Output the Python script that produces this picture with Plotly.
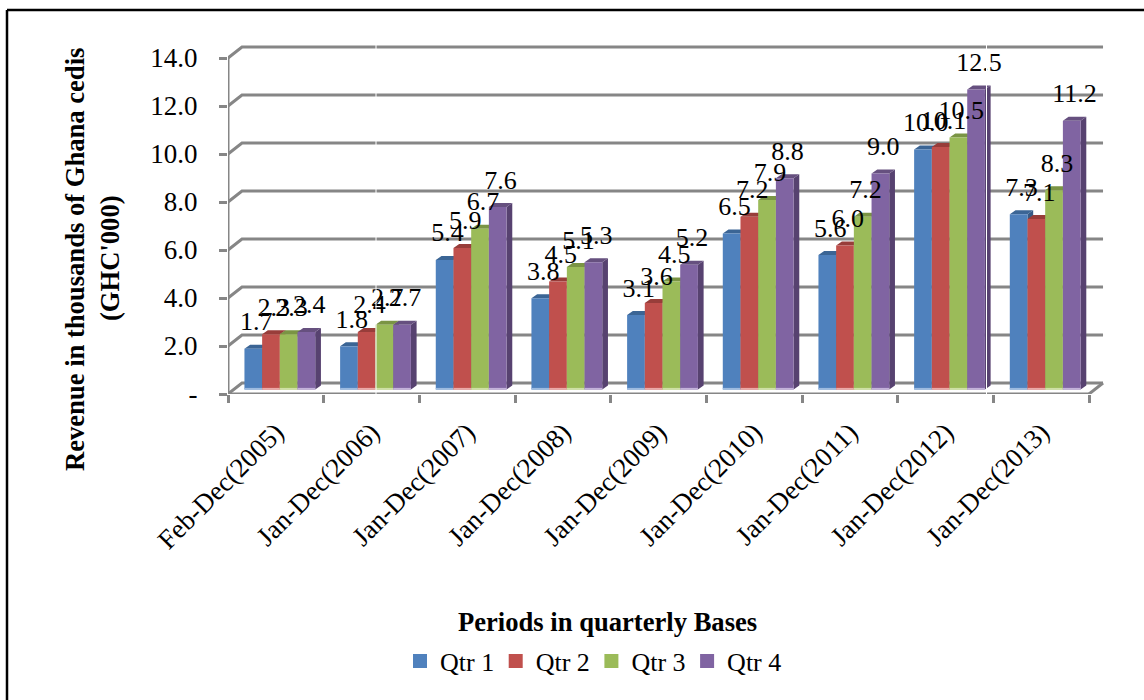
import plotly.graph_objects as go

# Quarterly revenue per reporting period (GHC'000)
periods = ["Feb-Dec(2005)", "Jan-Dec(2006)", "Jan-Dec(2007)", "Jan-Dec(2008)", "Jan-Dec(2009)",
           "Jan-Dec(2010)", "Jan-Dec(2011)", "Jan-Dec(2012)", "Jan-Dec(2013)"]
qtr1 = [1.7, 1.8, 5.4, 3.8, 3.1, 6.5, 5.6, 10.0, 7.3]
qtr2 = [2.3, 2.4, 5.9, 4.5, 3.6, 7.2, 6.0, 10.1, 7.1]
qtr3 = [2.3, 2.7, 6.7, 5.1, 4.5, 7.9, 7.2, 10.5, 8.3]
qtr4 = [2.4, 2.7, 7.6, 5.3, 5.2, 8.8, 9.0, 12.5, 11.2]
y_ticks = [0, 2, 4, 6, 8, 10, 12, 14]
y_tick_labels = ["-", "2.0", "4.0", "6.0", "8.0", "10.0", "12.0", "14.0"]

series = [("Qtr 1", qtr1), ("Qtr 2", qtr2), ("Qtr 3", qtr3), ("Qtr 4", qtr4)]
front = ["#4F81BD", "#C0504D", "#9BBB59", "#8064A2"]
top_face = ["#3B6595", "#983D3A", "#7A9444", "#66507F"]
side_face = ["#355A86", "#853532", "#6B823C", "#574270"]
base_edge = ["#9DBBE0", "#EBA9A7", "#CFE0A5", "#C3B2DA"]

FONT = "Liberation Serif"
AXIS_GREY = "#868686"

# Pixel scale of the plot frame
W, H = 1144, 700
LEFT, RIGHT, TOP, BOTTOM = 228, 1105, 30, 394
PX_PER_CAT = 95.67
PX_PER_UNIT = 24.0


def cat(px):
    return px / PX_PER_CAT


def val(px):
    return px / PX_PER_UNIT


# Oblique offsets: wall depth, bar depth, bar inset from the axis
WALL_DX, WALL_DY = cat(14), val(11)
BAR_DX, BAR_DY = cat(5.7), val(4)
BAR_BASE = val(4.5)
BAR_W = cat(17.7)
GROUP_SHIFT = cat(4)
LABEL_LIFT = val(25)

fig = go.Figure()

# Back wall gridlines and the slanted left wall
wall_x, wall_y = [], []
for v in y_ticks:
    wall_x += [0, WALL_DX, 9 + WALL_DX, None]
    wall_y += [v, v + WALL_DY, v + WALL_DY, None]
wall_x += [9, 9 + WALL_DX, None]
wall_y += [0, WALL_DY, None]
fig.add_trace(go.Scatter(x=wall_x, y=wall_y, mode="lines", line=dict(color=AXIS_GREY, width=3),
                         hoverinfo="skip", showlegend=False, zorder=0, cliponaxis=False))
# Front axis lines
fig.add_trace(go.Scatter(x=[0, 0, 9], y=[14, 0, 0], mode="lines", line=dict(color=AXIS_GREY, width=3),
                         hoverinfo="skip", showlegend=False, zorder=0, cliponaxis=False))

label_x, label_y, label_t = [], [], []
for s, (name, values) in enumerate(series):
    centers = [i + 0.5 + GROUP_SHIFT + (s - 1.5) * BAR_W for i in range(len(periods))]
    sx, sy, tx, ty, ex, ey = [], [], [], [], [], []
    for c, v in zip(centers, values):
        l, r = c - BAR_W / 2, c + BAR_W / 2
        t = BAR_BASE + v
        sx += [r, r + BAR_DX, r + BAR_DX, r, r, None]
        sy += [BAR_BASE, BAR_BASE + BAR_DY, t + BAR_DY, t, BAR_BASE, None]
        tx += [l, l + BAR_DX, r + BAR_DX, r, l, None]
        ty += [t, t + BAR_DY, t + BAR_DY, t, t, None]
        ex += [l, r, None]
        ey += [BAR_BASE + val(0.8), BAR_BASE + val(0.8), None]
        label_x.append(c + BAR_DX / 2)
        label_y.append(t + LABEL_LIFT)
        label_t.append(f"{v:.1f}")
    z = 2 * s + 1
    fig.add_trace(go.Scatter(x=sx, y=sy, mode="lines", fill="toself", fillcolor=side_face[s],
                             line=dict(width=0), hoverinfo="skip", showlegend=False, zorder=z))
    fig.add_trace(go.Scatter(x=tx, y=ty, mode="lines", fill="toself", fillcolor=top_face[s],
                             line=dict(width=0), hoverinfo="skip", showlegend=False, zorder=z))
    fig.add_trace(go.Bar(x=centers, y=values, base=BAR_BASE, width=BAR_W, name=name, legendgroup=name,
                         showlegend=False, marker=dict(color=front[s], line=dict(width=0)), zorder=z + 1))
    fig.add_trace(go.Scatter(x=ex, y=ey, mode="lines", line=dict(color=base_edge[s], width=1.6),
                             hoverinfo="skip", showlegend=False, zorder=z + 1))
    # Legend-only entry: the outline makes the swatch a little larger
    fig.add_trace(go.Bar(x=[None], y=[None], name=name, legendgroup=name, showlegend=True,
                         marker=dict(color=front[s], line=dict(width=2, color=front[s]))))

# Value labels sit above the bars and overlap where bars are close
fig.add_trace(go.Scatter(x=label_x, y=label_y, text=label_t, mode="text", textposition="middle center",
                         textfont=dict(family=FONT, size=26, color="#000000"),
                         hoverinfo="skip", showlegend=False, zorder=20, cliponaxis=False))


def paper_x(px):
    return (px - LEFT) / (RIGHT - LEFT)


def paper_y(px):
    return (BOTTOM - px) / (BOTTOM - TOP)


fig.update_layout(
    width=W, height=H, autosize=False,
    margin=dict(l=LEFT, r=W - RIGHT, t=TOP, b=H - BOTTOM, pad=0),
    paper_bgcolor="#ffffff", plot_bgcolor="#ffffff",
    barmode="overlay",
    font=dict(family=FONT, color="#000000", size=26),
    xaxis=dict(
        range=[0, (RIGHT - LEFT) / PX_PER_CAT],
        tickmode="array",
        tickvals=[i + 0.5 for i in range(len(periods))],
        ticktext=periods,
        tickangle=-45,
        ticks="",
        ticklabelstandoff=16,
        tickfont=dict(family=FONT, size=27),
        showgrid=False, zeroline=False, showline=False,
        minor=dict(tickmode="array", tickvals=list(range(len(periods) + 1)), ticks="outside",
                   ticklen=8, tickwidth=3, tickcolor=AXIS_GREY, showgrid=False),
    ),
    yaxis=dict(
        range=[0, (BOTTOM - TOP) / PX_PER_UNIT],
        tickmode="array",
        tickvals=y_ticks,
        ticktext=y_tick_labels,
        ticks="outside", ticklen=8, tickwidth=3, tickcolor=AXIS_GREY,
        ticklabelstandoff=16,
        tickfont=dict(family=FONT, size=27),
        showgrid=False, zeroline=False, showline=False,
    ),
    legend=dict(orientation="h", x=paper_x(400), y=paper_y(661), xanchor="left", yanchor="middle",
                entrywidth=50.7, entrywidthmode="pixels", traceorder="normal",
                font=dict(family=FONT, size=26), bgcolor="rgba(0,0,0,0)"),
    annotations=[
        dict(text="<b>Revenue in thousands of Ghana cedis</b>", xref="paper", yref="paper",
             x=paper_x(75), y=paper_y(260), textangle=-90, showarrow=False, xanchor="center", yanchor="middle",
             font=dict(family=FONT, size=26.6)),
        dict(text="<b>(GHC'000)</b>", xref="paper", yref="paper",
             x=paper_x(110), y=paper_y(258), textangle=-90, showarrow=False, xanchor="center", yanchor="middle",
             font=dict(family=FONT, size=26.6)),
        dict(text="<b>Periods in quarterly Bases</b>", xref="paper", yref="paper",
             x=paper_x(607), y=paper_y(622), showarrow=False, xanchor="center", yanchor="middle",
             font=dict(family=FONT, size=26.6)),
    ],
    shapes=[
        # Outer frame runs along the top and left edges only
        dict(type="line", xref="paper", yref="paper", x0=paper_x(7), x1=paper_x(1144),
             y0=paper_y(10), y1=paper_y(10), line=dict(color="#000000", width=2.5), layer="above"),
        dict(type="line", xref="paper", yref="paper", x0=paper_x(7), x1=paper_x(7),
             y0=paper_y(10), y1=paper_y(700), line=dict(color="#000000", width=2.5), layer="above"),
        # Thin white seams crossing the plot
        dict(type="line", xref="paper", yref="paper", x0=paper_x(376), x1=paper_x(376),
             y0=paper_y(40), y1=paper_y(400), line=dict(color="#ffffff", width=1), layer="above"),
        dict(type="line", xref="paper", yref="paper", x0=paper_x(986.5), x1=paper_x(986.5),
             y0=paper_y(40), y1=paper_y(400), line=dict(color="#ffffff", width=1), layer="above"),
    ],
)

fig.write_html("out.html")
